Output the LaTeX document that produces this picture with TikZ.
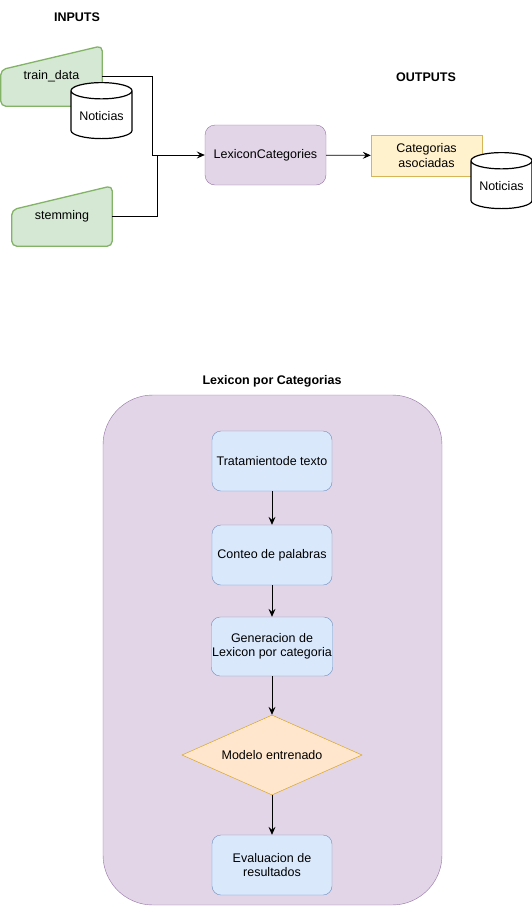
\documentclass[tikz,border=0pt]{standalone}
\usepackage{fontspec}
\setmainfont{Liberation Sans}
\usetikzlibrary{shapes.geometric,arrows.meta,positioning,backgrounds}

\definecolor{ingreen}{HTML}{D5E8D4}
\definecolor{ingreenline}{HTML}{82B366}
\definecolor{lexpurple}{HTML}{E1D5E7}
\definecolor{lexpurpleline}{HTML}{9673A6}
\definecolor{outyellow}{HTML}{FFF2CC}
\definecolor{outyellowline}{HTML}{D6B656}
\definecolor{taskblue}{HTML}{DAE8FC}
\definecolor{taskblueline}{HTML}{6C8EBF}
\definecolor{modelorange}{HTML}{FFE6CC}
\definecolor{modelorangeline}{HTML}{D79B00}

\begin{document}
\begin{tikzpicture}[x=1pt, y=-1pt,
    every node/.style = {font=\fontsize{12.5}{14.5}\selectfont, align=center, inner sep=1pt},
    inarea/.style = {minimum width=100pt, minimum height=60pt},
    inshape/.style = {draw=ingreenline, fill=ingreen, line width=1.3pt, rounded corners=5pt},
    newsdb/.style = {draw, fill=white, line width=1.2pt, cylinder, shape border rotate=90,
                     aspect=0.35, minimum width=61pt, minimum height=56pt},
    lexbox/.style = {draw=lexpurpleline, fill=lexpurple, rounded corners=10pt,
                     minimum width=121pt, minimum height=60pt},
    outbox/.style = {draw=outyellowline, fill=outyellow, minimum width=111pt, minimum height=41pt},
    taskbox/.style = {draw=taskblueline, fill=taskblue, rounded corners=9pt,
                      minimum width=120pt, minimum height=60pt},
    modelbox/.style = {draw=modelorangeline, fill=modelorange, diamond, aspect=2.25,
                       minimum width=180pt, minimum height=80pt, inner sep=0pt},
    flow/.style = {-{Stealth[length=8pt, width=7pt, inset=3pt]}, line width=0.8pt}]
\useasboundingbox (0,0) rectangle (532,906);

% inputs
\node (inlabel) at (77,17) {\textbf{INPUTS}};
\node [inarea, minimum width=101pt] (train) at (51.5,76) {train\_data};
\node [inarea] (stem) at (62,216) {stemming};
\begin{pgfonlayer}{background}
\draw [inshape] ([yshift=-24pt]train.north west) -- (train.north east)
  -- (train.south east) -- (train.south west) -- cycle;
\draw [inshape] ([yshift=-24pt]stem.north west) -- (stem.north east)
  -- (stem.south east) -- (stem.south west) -- cycle;
\end{pgfonlayer}
\node [newsdb] (news1) at (101.5,116) {Noticias};

% central process
\node [lexbox] (lex) at (265.5,155) {LexiconCategories};
\draw [flow] (train.east) -| ([xshift=-52pt]lex.west) -- (lex.west);
\draw [line width=0.8pt] (stem.east) -| ([xshift=-47pt]lex.west);

% outputs
\node (outlabel) at (426,77) {\textbf{OUTPUTS}};
\node [outbox] (cat) at (426.5,155.5) {Categorias\\asociadas};
\node [newsdb] (news2) at (501.5,186) {Noticias};
\draw [flow] (lex) -- (cat);

% detalle del lexicon
\node (lextitle) at (272,381) {\textbf{Lexicon por Categorias}};
\node [draw=lexpurpleline, fill=lexpurple, rounded corners=50pt,
       minimum width=339pt, minimum height=510pt] (container) at (272.5,650) {};

\node [taskbox] (trat) at (272,461) {Tratamientode texto};
\node [taskbox] (conteo) at (272,555) {Conteo de palabras};
\node [taskbox, minimum height=59pt] (gen) at (272,646.5) {Generacion de\\Lexicon por categoria};
\node [modelbox] (modelo) at (272,755) {Modelo entrenado};
\node [taskbox] (eval) at (272,865) {Evaluacion de\\resultados};

\draw [flow] (trat) -- (conteo);
\draw [flow] (conteo) -- (gen);
\draw [flow] (gen) -- (modelo);
\draw [flow] (modelo) -- (eval);

\end{tikzpicture}
\end{document}
